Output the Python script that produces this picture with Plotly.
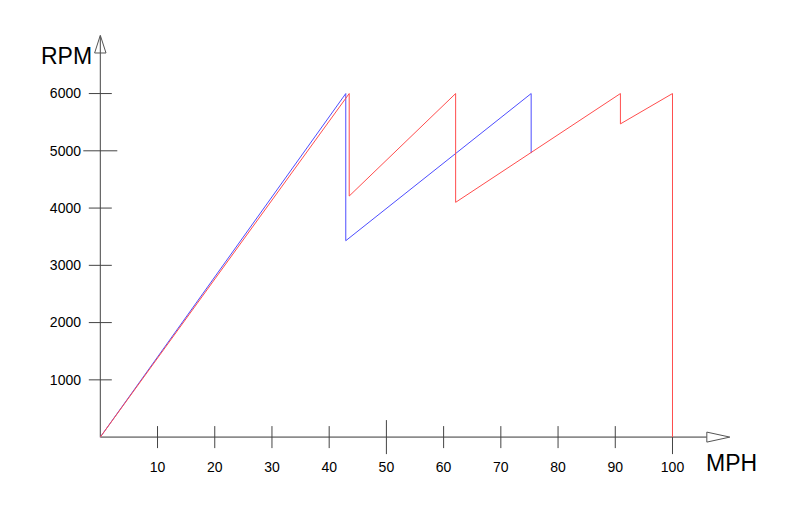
import plotly.graph_objects as go

# ---- data ----
RED_MPH = [0, 43.5, 43.5, 62.1, 62.1, 90.9, 90.9, 100, 100]
RED_RPM = [0, 6000, 4210, 6000, 4100, 6000, 5470, 6000, 0]
BLUE_MPH = [0, 42.9, 42.9, 75.3, 75.3]
BLUE_RPM = [0, 6000, 3430, 6000, 4960]

X_TICKS = [10, 20, 30, 40, 50, 60, 70, 80, 90, 100]
X_TICK_LABELS = [str(v) for v in X_TICKS]
Y_TICKS = [1000, 2000, 3000, 4000, 5000, 6000]
Y_TICK_LABELS = [str(v) for v in Y_TICKS]
X_LONG = [50, 100]
Y_LONG = [5000]

X_AXIS_END = 106
Y_AXIS_END = 7000
X_LABEL = "MPH"
Y_LABEL = "RPM"

FONT = "Liberation Sans, Arial, sans-serif"

fig = go.Figure()
fig.add_trace(go.Scatter(x=BLUE_MPH, y=BLUE_RPM, mode="lines",
                         line=dict(color="#4d4dff", width=1), hoverinfo="skip"))
fig.add_trace(go.Scatter(x=RED_MPH, y=RED_RPM, mode="lines",
                         line=dict(color="#ff4d4d", width=1), hoverinfo="skip"))

shapes = []
# axis lines
shapes.append(dict(type="line", xref="x", yref="y", x0=0, x1=0, y0=0, y1=Y_AXIS_END,
                   line=dict(color="#444444", width=1), layer="below"))
shapes.append(dict(type="line", xref="x", yref="y", x0=0, x1=X_AXIS_END, y0=0, y1=0,
                   line=dict(color="#8c8c8c", width=1.6), layer="below"))
# arrow heads
shapes.append(dict(type="path", xref="x", yref="y", xsizemode="pixel", ysizemode="pixel",
                   xanchor=0, yanchor=Y_AXIS_END,
                   path="M 0 1 L -5.7 -16.7 L 5.7 -16.7 Z",
                   line=dict(color="#555555", width=1), fillcolor="rgba(0,0,0,0)"))
shapes.append(dict(type="path", xref="x", yref="y", xsizemode="pixel", ysizemode="pixel",
                   xanchor=X_AXIS_END, yanchor=0,
                   path="M 0 5 L 0 -5 L 23 0 Z",
                   line=dict(color="#555555", width=1), fillcolor="white"))
# tick marks crossing the axes
for v in X_TICKS:
    L = 17 if v in X_LONG else 11
    shapes.append(dict(type="line", xref="x", yref="y", ysizemode="pixel", yanchor=0,
                       x0=v, x1=v, y0=-L, y1=L, line=dict(color="#444444", width=1),
                       layer="below"))
for v in Y_TICKS:
    L = 17 if v in Y_LONG else 11.5
    shapes.append(dict(type="line", xref="x", yref="y", xsizemode="pixel", xanchor=0,
                       x0=-L, x1=L, y0=v, y1=v, line=dict(color="#444444", width=1),
                       layer="below"))

# the page body has an 8px default margin, so the figure is offset by 8px
fig.update_layout(
    width=784, height=499,
    margin=dict(l=74.4, r=60.0, t=26.0, b=50.8, pad=0, autoexpand=False),
    paper_bgcolor="white", plot_bgcolor="white",
    showlegend=False,
    font=dict(family=FONT, size=14, color="#000000"),
    shapes=shapes,
    xaxis=dict(range=[-3.2, 110.4], showgrid=False, zeroline=False, showline=False,
               automargin=False,
               tickmode="array", tickvals=X_TICKS, ticktext=X_TICK_LABELS,
               ticks="", ticklabelstandoff=1, tickfont=dict(size=14, family=FONT)),
    yaxis=dict(range=[-330, 7040], showgrid=False, zeroline=False, showline=False,
               automargin=False,
               tickmode="array", tickvals=Y_TICKS, ticktext=Y_TICK_LABELS,
               ticks="", ticklabelstandoff=0, tickfont=dict(size=14, family=FONT)),
    annotations=[
        dict(x=0, y=Y_AXIS_END, xref="x", yref="y", text=Y_LABEL, showarrow=False,
             xanchor="right", yanchor="middle", xshift=-6, yshift=-20,
             font=dict(size=23, family=FONT, color="#000000")),
        dict(x=110, y=0, xref="x", yref="y", text=X_LABEL, showarrow=False,
             xanchor="left", yanchor="middle", xshift=-25.5, yshift=-26,
             font=dict(size=23, family=FONT, color="#000000")),
    ],
)

fig.write_html("out.html")
